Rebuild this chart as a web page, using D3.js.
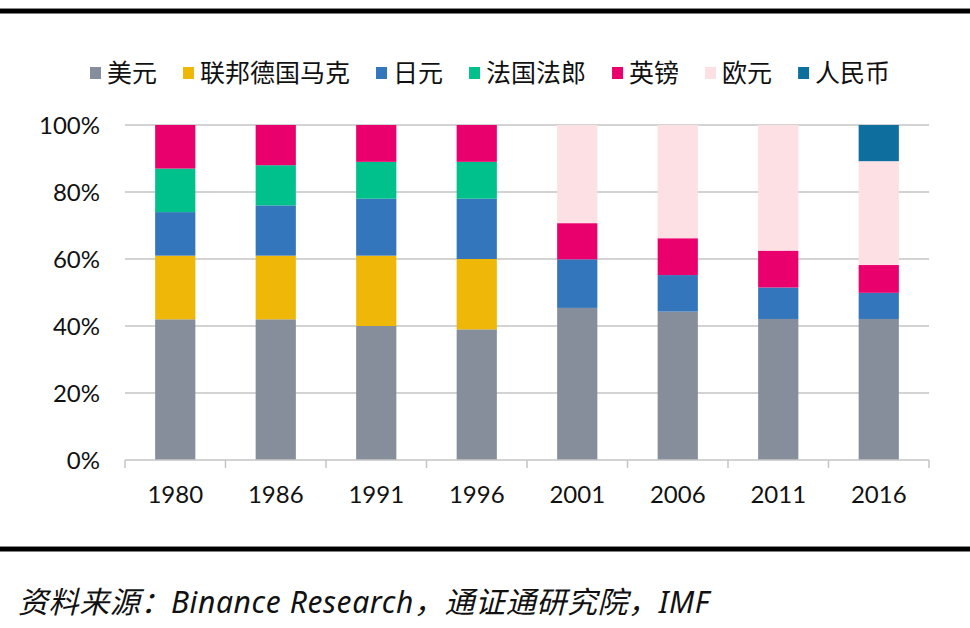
<!DOCTYPE html>
<html><head><meta charset="utf-8">
<script src="https://cdn.jsdelivr.net/npm/d3@7"></script>
<style>
body{margin:0;background:#fff;}
svg{display:block;}
</style></head>
<body>
<svg id="chart" width="970" height="628"></svg>
<script>
const years = ["1980","1986","1991","1996","2001","2006","2011","2016"];
const seriesNames = ["美元","联邦德国马克","日元","法国法郎","英镑","欧元","人民币"];
const seriesColors = ["#868e9c","#efb808","#3376bc","#00c08b","#ea006d","#fde0e3","#0e6f9e"];
const usd  = [42, 42, 40, 39, 45.4, 44.3, 42.1, 42.1];
const dem  = [19, 19, 21, 21, 0, 0, 0, 0];
const jpy  = [13, 15, 17, 18, 14.5, 10.9, 9.4, 7.8];
const frf  = [13, 12, 11, 11, 0, 0, 0, 0];
const gbp  = [13, 12, 11, 11, 10.8, 11.0, 11.0, 8.3];
const eur  = [0, 0, 0, 0, 29.3, 33.8, 37.5, 31.0];
const rmb  = [0, 0, 0, 0, 0, 0, 0, 10.8];
const yTicks = [0, 20, 40, 60, 80, 100];
const sourceText = "资料来源：Binance Research，通证通研究院，IMF";

const allSeries = [usd, dem, jpy, frf, gbp, eur, rmb];
const rows = years.map((y, i) => {
  const r = {year: y};
  seriesNames.forEach((n, k) => r[n] = allSeries[k][i]);
  return r;
});

const svg = d3.select("#chart");
const W = 970;
const plotBottom = 460, plotTop = 125;

// frame lines
svg.append("rect").attr("x",0).attr("y",8).attr("width",W).attr("height",1).attr("fill","#8a8a8a");
svg.append("rect").attr("x",0).attr("y",9).attr("width",W).attr("height",4.5).attr("fill","#000");
svg.append("rect").attr("x",0).attr("y",546).attr("width",W).attr("height",1).attr("fill","#8a8a8a");
svg.append("rect").attr("x",0).attr("y",547).attr("width",W).attr("height",4.5).attr("fill","#000");

const x = d3.scaleBand().domain(years).range([125, 929]).paddingInner(0.6).paddingOuter(0.3);
const y = d3.scaleLinear().domain([0, 100]).range([plotBottom, plotTop]);

// gridlines
svg.append("g").selectAll("line").data(yTicks.filter(t => t > 0)).join("line")
  .attr("x1", 125).attr("x2", 929)
  .attr("y1", d => y(d)).attr("y2", d => y(d))
  .attr("stroke", "#c4c4c4").attr("stroke-width", 1.5);

// y labels
svg.append("g").selectAll("text").data(yTicks).join("text")
  .attr("x", 100).attr("y", d => y(d))
  .attr("dy", "0.36em")
  .attr("text-anchor", "end")
  .attr("font-family", "Lato, 'Open Sans', sans-serif")
  .attr("font-size", 24).attr("fill", "#111")
  .text(d => d + "%");

// stacked bars
const stack = d3.stack().keys(seriesNames)(rows);
svg.append("g").selectAll("g").data(stack).join("g")
  .attr("fill", (d, i) => seriesColors[i])
  .selectAll("rect").data(d => d).join("rect")
  .attr("x", d => x(d.data.year))
  .attr("width", x.bandwidth())
  .attr("y", d => y(d[1]))
  .attr("height", d => Math.max(0, y(d[0]) - y(d[1])));

// x axis
const xAxisBand = d3.scaleBand().domain(years).range([125, 929]);
const ax = svg.append("g");
ax.append("line").attr("x1",125).attr("x2",929).attr("y1",plotBottom).attr("y2",plotBottom)
  .attr("stroke","#c4c4c4").attr("stroke-width",1.5);
const tickXs = years.map(yr => xAxisBand(yr)).concat([929]);
ax.selectAll("line.tick").data(tickXs).join("line").attr("class","tick")
  .attr("x1", d => d).attr("x2", d => d)
  .attr("y1", plotBottom).attr("y2", plotBottom + 8)
  .attr("stroke","#c4c4c4").attr("stroke-width",1.5);
ax.selectAll("text").data(years).join("text")
  .attr("x", d => xAxisBand(d) + xAxisBand.bandwidth()/2)
  .attr("y", 503)
  .attr("text-anchor","middle")
  .attr("font-family", "Lato, 'Open Sans', sans-serif")
  .attr("font-size", 24).attr("fill", "#111")
  .text(d => d);

// legend
const lg = svg.append("g");
let lx = 90;
seriesNames.forEach((n, i) => {
  lg.append("rect").attr("x", lx).attr("y", 67).attr("width", 11).attr("height", 12).attr("fill", seriesColors[i]);
  const t = lg.append("text").attr("x", lx + 17).attr("y", 73).attr("dy","0.36em")
    .attr("font-family", "'Noto Sans CJK SC', sans-serif")
    .attr("font-size", 25).attr("fill", "#111").text(n);
  lx = lx + 17 + t.node().getComputedTextLength() + 26;
});

// footer
svg.append("text").attr("x", 18).attr("y", 602).attr("dy","0.36em")
  .attr("font-family", "'Noto Sans', 'Noto Sans CJK SC', sans-serif")
  .attr("font-style","italic")
  .attr("letter-spacing", 0.6)
  .attr("font-size", 30).attr("fill", "#111").text(sourceText);
</script>
</body></html>
